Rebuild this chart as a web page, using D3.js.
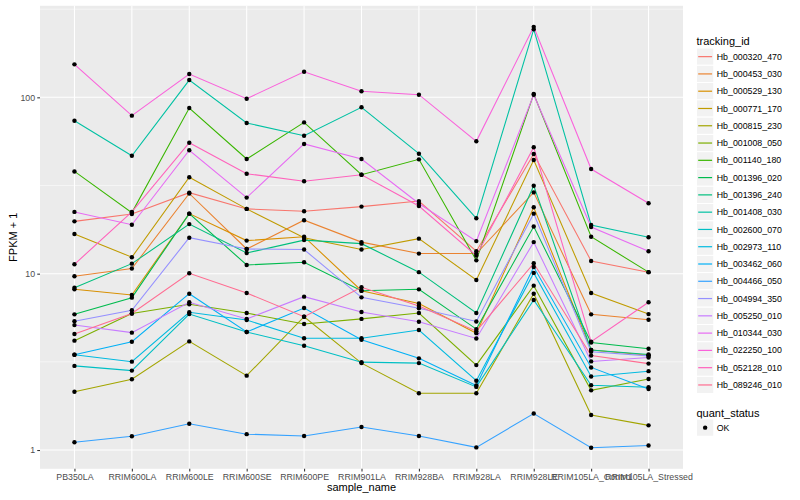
<!DOCTYPE html>
<html><head><meta charset="utf-8">
<script src="https://cdn.jsdelivr.net/npm/d3@7"></script>
<style>body{margin:0;background:#fff}svg{display:block}text{font-family:"Liberation Sans",Arial,sans-serif}</style>
</head><body><svg id="c" width="800" height="500"></svg>
<script>
const samples = ["PB350LA","RRIM600LA","RRIM600LE","RRIM600SE","RRIM600PE","RRIM901LA","RRIM928BA","RRIM928LA","RRIM928LE","RRIM105LA_Control","RRIM105LA_Stressed"];
const trackingIds = ["Hb_000320_470","Hb_000453_030","Hb_000529_130","Hb_000771_170","Hb_000815_230","Hb_001008_050","Hb_001140_180","Hb_001396_020","Hb_001396_240","Hb_001408_030","Hb_002600_070","Hb_002973_110","Hb_003462_060","Hb_004466_050","Hb_004994_350","Hb_005250_010","Hb_010344_030","Hb_022250_100","Hb_052128_010","Hb_089246_010"];
const s000320_470 = [19.8, 21.8, 28.8, 23.3, 22.6, 24.0, 25.8, 13.4, 47.7, 11.8, 10.2];
const s000453_030 = [9.66, 10.7, 28.5, 13.8, 20.1, 15.1, 13.0, 13.0, 28.9, 5.88, 5.48];
const s000529_130 = [8.15, 7.57, 21.9, 15.4, 16.2, 8.0, 6.78, 4.6, 23.8, 3.69, 3.45];
const s000771_170 = [16.8, 12.4, 35.2, 23.3, 16.0, 13.7, 15.8, 9.2, 44.1, 7.77, 5.9];
const s000815_230 = [2.14, 2.52, 4.13, 2.64, 5.7, 3.11, 2.10, 2.10, 7.70, 1.58, 1.38];
const s001008_050 = [4.17, 5.95, 6.7, 5.98, 5.18, 5.54, 5.98, 3.03, 8.55, 2.18, 2.53];
const s001140_180 = [38.0, 22.2, 87.0, 44.7, 72.1, 36.4, 44.5, 11.9, 104.4, 16.2, 10.2];
const s001396_020 = [5.88, 7.31, 21.9, 11.2, 11.6, 8.0, 8.15, 4.85, 18.5, 4.07, 3.75];
const s001396_240 = [8.32, 11.4, 19.1, 13.1, 15.5, 14.8, 10.2, 5.98, 31.5, 3.69, 3.48];
const s001408_030 = [73.7, 46.6, 125.3, 71.5, 60.6, 87.8, 47.9, 20.6, 243, 18.9, 16.1];
const s002600_070 = [3.00, 2.82, 5.9, 4.67, 3.90, 3.15, 3.11, 2.28, 7.09, 2.33, 2.27];
const s002973_110 = [3.47, 3.17, 6.04, 5.46, 4.30, 4.30, 4.79, 2.47, 10.1, 2.61, 2.80];
const s003462_060 = [3.47, 4.11, 7.7, 4.67, 6.39, 4.22, 3.31, 2.32, 10.9, 2.94, 2.22];
const s004466_050 = [1.106, 1.196, 1.41, 1.23, 1.20, 1.35, 1.20, 1.035, 1.61, 1.03, 1.06];
const s004994_350 = [5.37, 6.20, 16.0, 13.8, 13.7, 7.34, 6.36, 5.36, 21.9, 3.61, 3.42];
const s005250_010 = [5.11, 4.63, 6.88, 5.53, 7.41, 6.06, 5.34, 4.29, 15.1, 3.18, 3.35];
const s010344_030 = [22.4, 18.95, 50.1, 27.0, 54.4, 44.7, 25.0, 15.3, 103.4, 18.4, 13.4];
const s022250_100 = [153.8, 78.7, 135.6, 98.2, 139.7, 108.2, 103.5, 56.3, 251, 39.2, 25.1];
const s052128_010 = [11.3, 22.4, 55.3, 36.9, 33.4, 36.4, 24.2, 12.65, 52.1, 4.12, 6.88];
const s089246_010 = [4.55, 5.95, 10.05, 7.77, 5.7, 8.37, 6.56, 4.72, 11.45, 3.43, 3.09];
const seriesValues = [s000320_470,s000453_030,s000529_130,s000771_170,s000815_230,s001008_050,s001140_180,s001396_020,s001396_240,s001408_030,s002600_070,s002973_110,s003462_060,s004466_050,s004994_350,s005250_010,s010344_030,s022250_100,s052128_010,s089246_010];
const yTicks = [1, 10, 100];
const statusLevels = ["OK"];

const palette = ["#F8766D","#EA8331","#D89000","#C09B00","#A3A500","#7CAE00","#39B600","#00BB4E","#00BF7D","#00C1A3","#00BFC4","#00BAE0","#00B0F6","#35A2FF","#9590FF","#C77CFF","#E76BF3","#FA62DB","#FF62BC","#FF6C91"];

const svg = d3.select("#c");
const P = {l: 40, r: 683, t: 5.8, b: 468.8};

const x = d3.scalePoint().domain(samples).range([P.l, P.r]).padding(0.6);
const all = seriesValues.flat();
const lmin = Math.log10(d3.min(all)), lmax = Math.log10(d3.max(all));
const ex = (lmax - lmin) * 0.05;
const y = d3.scaleLog().domain([Math.pow(10, lmin - ex), Math.pow(10, lmax + ex)]).range([P.b, P.t]);
const color = d3.scaleOrdinal().domain(trackingIds).range(palette);

// panel
svg.append("rect").attr("x", P.l).attr("y", P.t).attr("width", P.r - P.l).attr("height", P.b - P.t).attr("fill", "#EBEBEB");
// minor grid
const minor = [-0.5, 0.5, 1.5, 2.5].map(e => Math.pow(10, e)).filter(v => v >= y.domain()[0] && v <= y.domain()[1]);
svg.append("g").selectAll("line").data(minor).join("line")
  .attr("x1", P.l).attr("x2", P.r).attr("y1", d => y(d)).attr("y2", d => y(d))
  .attr("stroke", "#fff").attr("stroke-width", 0.53);
svg.append("g").selectAll("line").data(yTicks).join("line")
  .attr("x1", P.l).attr("x2", P.r).attr("y1", d => y(d)).attr("y2", d => y(d))
  .attr("stroke", "#fff").attr("stroke-width", 1.07);
svg.append("g").selectAll("line").data(samples).join("line")
  .attr("x1", d => x(d)).attr("x2", d => x(d)).attr("y1", P.t).attr("y2", P.b)
  .attr("stroke", "#fff").attr("stroke-width", 1.07);

// lines
const line = d3.line().x((d, i) => x(samples[i])).y(d => y(d));
svg.append("g").selectAll("path").data(seriesValues).join("path")
  .attr("d", d => line(d)).attr("fill", "none")
  .attr("stroke", (d, i) => color(trackingIds[i])).attr("stroke-width", 1.07);
// points
const pts = [];
seriesValues.forEach((s, k) => s.forEach((v, i) => pts.push({s: samples[i], v})));
svg.append("g").selectAll("circle").data(pts).join("circle")
  .attr("cx", d => x(d.s)).attr("cy", d => y(d.v)).attr("r", 2.2).attr("fill", "#000");

// axes
const yAxis = svg.append("g").attr("transform", `translate(${P.l},0)`)
  .call(d3.axisLeft(y).tickValues(yTicks).tickFormat(d3.format("d")).tickSize(2.75).tickPadding(2.2));
const xAxis = svg.append("g").attr("transform", `translate(0,${P.b})`)
  .call(d3.axisBottom(x).tickSize(2.75).tickPadding(2.2));
[xAxis, yAxis].forEach(g => {
  g.select(".domain").remove();
  g.selectAll(".tick line").attr("stroke", "#333333").attr("stroke-width", 1.07);
  g.selectAll(".tick text").attr("fill", "#4D4D4D").style("font-size", "8.8px").style("font-family", '"Liberation Sans",Arial,sans-serif');
});

svg.append("text").attr("x", (P.l + P.r) / 2).attr("y", 491).attr("text-anchor", "middle")
  .style("font-size", "11px").text("sample_name");
svg.append("text").attr("transform", `translate(16.5,${(P.t + P.b) / 2}) rotate(-90)`).attr("text-anchor", "middle")
  .style("font-size", "11px").text("FPKM + 1");

// legend
const lg = svg.append("g").attr("transform", "translate(696.5,0)");
lg.append("text").attr("x", 0).attr("y", 44.5).style("font-size", "11px").text("tracking_id");
const keyH = 17.28, key0 = 48;
const items = lg.selectAll("g.k").data(trackingIds).join("g").attr("class", "k")
  .attr("transform", (d, i) => `translate(0,${key0 + i * keyH})`);
items.append("rect").attr("width", keyH).attr("height", keyH).attr("fill", "#F2F2F2").attr("stroke", "#fff").attr("stroke-width", 1);
items.append("line").attr("x1", 1.7).attr("x2", keyH - 1.7).attr("y1", keyH / 2).attr("y2", keyH / 2)
  .attr("stroke", d => color(d)).attr("stroke-width", 1.2);
items.append("text").attr("x", keyH + 3).attr("y", keyH / 2 + 3.1).style("font-size", "8.8px").text(d => d);

const q0 = 417;
lg.append("text").attr("x", 0).attr("y", q0).style("font-size", "11px").text("quant_status");
const qi = lg.selectAll("g.q").data(statusLevels).join("g").attr("class", "q")
  .attr("transform", (d, i) => `translate(0,${q0 + 2 + i * keyH})`);
qi.append("rect").attr("width", keyH).attr("height", keyH).attr("fill", "#F2F2F2").attr("stroke", "#fff");
qi.append("circle").attr("cx", keyH / 2).attr("cy", keyH / 2).attr("r", 2.2).attr("fill", "#000");
qi.append("text").attr("x", keyH + 3).attr("y", keyH / 2 + 3.1).style("font-size", "8.8px").text(d => d);
</script></body></html>
